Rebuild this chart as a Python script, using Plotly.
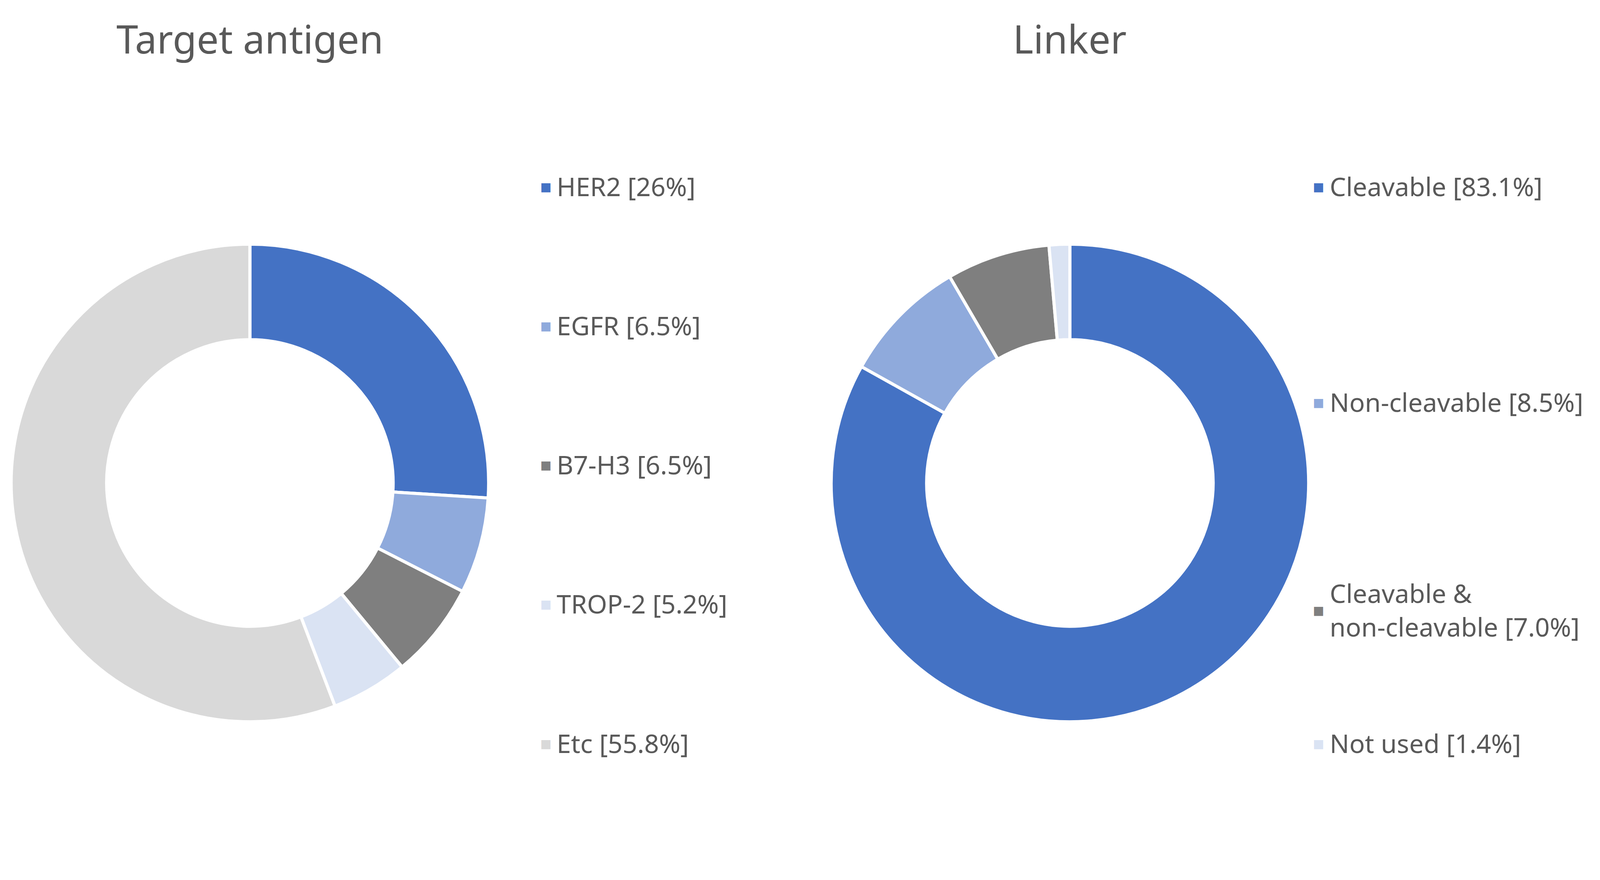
import plotly.graph_objects as go

W, H = 6342, 2252

antigen_labels = ["HER2", "EGFR", "B7-H3", "TROP-2", "Etc"]
antigen_values = [26, 6.5, 6.5, 5.2, 55.8]
antigen_text = ["HER2 [26%]", "EGFR [6.5%]", "B7-H3 [6.5%]", "TROP-2 [5.2%]", "Etc [55.8%]"]
antigen_colors = ["#4472C4", "#8FAADC", "#7F7F7F", "#DAE3F3", "#D9D9D9"]

linker_labels = ["Cleavable", "Non-cleavable", "Cleavable & non-cleavable", "Not used"]
linker_values = [83.1, 8.5, 7.0, 1.4]
linker_text = ["Cleavable [83.1%]", "Non-cleavable [8.5%]",
               "Cleavable &<br>non-cleavable [7.0%]", "Not used [1.4%]"]
linker_colors = ["#4472C4", "#8FAADC", "#7F7F7F", "#DAE3F3"]

FONT = "Noto Sans"
TEXT_COLOR = "#595959"


def px_x(v):
    return v / W


def px_y(v):
    return 1 - v / H


fig = go.Figure()

# left donut: centre ~ (982, 1228), radius ~ 950
fig.add_trace(go.Pie(
    labels=antigen_labels, values=antigen_values, hole=0.6, sort=False,
    direction="clockwise", rotation=0, textinfo="none", hoverinfo="label+percent",
    marker=dict(colors=antigen_colors, line=dict(color="white", width=8)),
    domain=dict(x=[px_x(982 - 950), px_x(982 + 950)], y=[px_y(1228 + 950), px_y(1228 - 950)]),
    showlegend=False,
))

# right donut: centre ~ (4245, 1228)
fig.add_trace(go.Pie(
    labels=linker_labels, values=linker_values, hole=0.6, sort=False,
    direction="clockwise", rotation=0, textinfo="none", hoverinfo="label+percent",
    marker=dict(colors=linker_colors, line=dict(color="white", width=8)),
    domain=dict(x=[px_x(4245 - 950), px_x(4245 + 950)], y=[px_y(1228 + 950), px_y(1228 - 950)]),
    showlegend=False,
))

annotations = []
# titles
for txt, cx in [("Target antigen", 982), ("Linker", 4245)]:
    annotations.append(dict(text=txt, x=px_x(cx), y=px_y(90), xref="paper", yref="paper",
                            showarrow=False, font=dict(family=FONT, size=100, color=TEXT_COLOR),
                            xanchor="center", yanchor="middle"))

# legends (drawn by hand, like the reference)
def add_legend(texts, colors, sq_x, ys):
    for t, c, y in zip(texts, colors, ys):
        annotations.append(dict(text="■", x=px_x(sq_x), y=px_y(y), xref="paper", yref="paper",
                                showarrow=False, font=dict(family=FONT, size=48, color=c),
                                xanchor="center", yanchor="middle"))
        annotations.append(dict(text=t, x=px_x(sq_x + 40), y=px_y(y), xref="paper", yref="paper",
                                showarrow=False, align="left",
                                font=dict(family=FONT, size=66, color=TEXT_COLOR),
                                xanchor="left", yanchor="middle"))

add_legend(antigen_text, antigen_colors, 2160, [468, 824, 1180, 1536, 1893])
add_legend(linker_text, linker_colors, 5235, [468, 1020, 1552, 1893])

fig.update_layout(
    autosize=True, margin=dict(l=0, r=0, t=0, b=0),
    paper_bgcolor="white", plot_bgcolor="white",
    annotations=annotations,
)

# fill the browser window, whatever its css size
fig.write_html("out.html", default_width="100%", default_height="100vh",
               config={"responsive": True})
